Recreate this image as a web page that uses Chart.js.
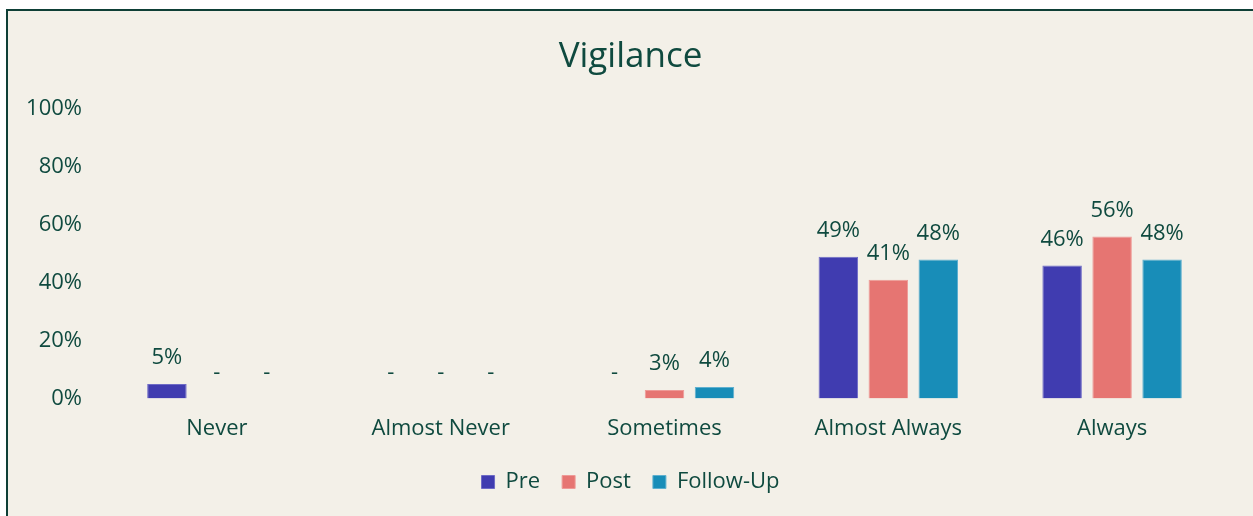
<!DOCTYPE html>
<html>
<head>
<meta charset="utf-8">
<script src="https://cdn.jsdelivr.net/npm/chart.js@4"></script>
<style>
  body { margin: 0; background: #ffffff; overflow: hidden; }
  #box {
    position: absolute; left: 6px; top: 9px;
    width: 1260px; height: 520px;
    background: #F3F0E8;
    border-top: 2px solid #0E3F36;
    border-left: 2px solid #0E3F36;
  }
</style>
</head>
<body>
<div id="box"><canvas id="chart" width="1245" height="505"></canvas></div>
<script>
// data
const categories = ["Never", "Almost Never", "Sometimes", "Almost Always", "Always"];
const preValues = [5, 0, 0, 49, 46];
const postValues = [0, 0, 3, 41, 56];
const followUpValues = [0, 0, 4, 48, 48];
const yTicks = [0, 20, 40, 60, 80, 100];

const textColor = '#0F4A3F';
const fontFamily = "'Open Sans', sans-serif";

// simple value labels above each bar, "-" when zero
const barLabels = {
    id: 'barLabels',
    afterDatasetsDraw(chart) {
        const ctx = chart.ctx;
        ctx.save();
        ctx.fillStyle = textColor;
        ctx.font = "22px " + fontFamily;
        ctx.textAlign = 'center';
        ctx.textBaseline = 'middle';
        chart.data.datasets.forEach(function(ds, i) {
            const meta = chart.getDatasetMeta(i);
            meta.data.forEach(function(bar, j) {
                const v = ds.data[j];
                const txt = v === 0 ? '-' : v + '%';
                ctx.fillText(txt, bar.x, bar.y - 26);
            });
        });
        ctx.restore();
    }
};

const barData = {
    labels: categories,
    datasets: [
        { label: "Pre", data: preValues, backgroundColor: '#403CB0', borderColor: '#6E6BC6', borderWidth: 1 },
        { label: "Post", data: postValues, backgroundColor: '#E67572', borderColor: '#EE9A97', borderWidth: 1 },
        { label: "Follow-Up", data: followUpValues, backgroundColor: '#188DB8', borderColor: '#5FB0CF', borderWidth: 1 }
    ]
};

const barOptions = {
    responsive: false,
    animation: false,
    categoryPercentage: 0.67,
    barPercentage: 0.79,
    layout: { padding: { left: 12, right: 12, top: 10, bottom: 13 } },
    plugins: {
        title: {
            display: true,
            text: 'Vigilance',
            color: textColor,
            font: { family: fontFamily, size: 35, weight: 'normal' },
            padding: { top: 15, bottom: 31 }
        },
        legend: {
            position: 'bottom',
            labels: {
                color: textColor,
                font: { family: fontFamily, size: 22 },
                boxWidth: 13,
                boxHeight: 13,
                padding: 22,
                useBorderRadius: false
            }
        },
        tooltip: { enabled: false }
    },
    scales: {
        x: {
            afterFit: function(scale) { scale.width = scale.width; scale.height = scale.height - 10; },
            grid: { display: false, drawTicks: false },
            border: { display: false },
            ticks: { color: textColor, font: { family: fontFamily, size: 22 }, padding: 17 }
        },
        y: {
            min: 0,
            max: 100,
            afterFit: function(scale) { scale.width = 85; },
            afterBuildTicks: function(scale) { scale.ticks = yTicks.map(v => ({ value: v })); },
            grid: { display: false, drawTicks: false },
            border: { display: false },
            ticks: {
                color: textColor,
                font: { family: fontFamily, size: 22 },
                padding: 23,
                callback: function(v) { return v + '%'; }
            }
        },
        // empty right-hand spacer so the title and legend stay centred on the box
        yRight: {
            position: 'right',
            min: 0,
            max: 100,
            afterFit: function(scale) { scale.width = 17; },
            grid: { display: false, drawTicks: false },
            border: { display: false },
            ticks: { display: false }
        }
    }
};

const ctx = document.getElementById("chart").getContext("2d");
new Chart(ctx, { type: 'bar', data: barData, options: barOptions, plugins: [barLabels] });
</script>
</body>
</html>
